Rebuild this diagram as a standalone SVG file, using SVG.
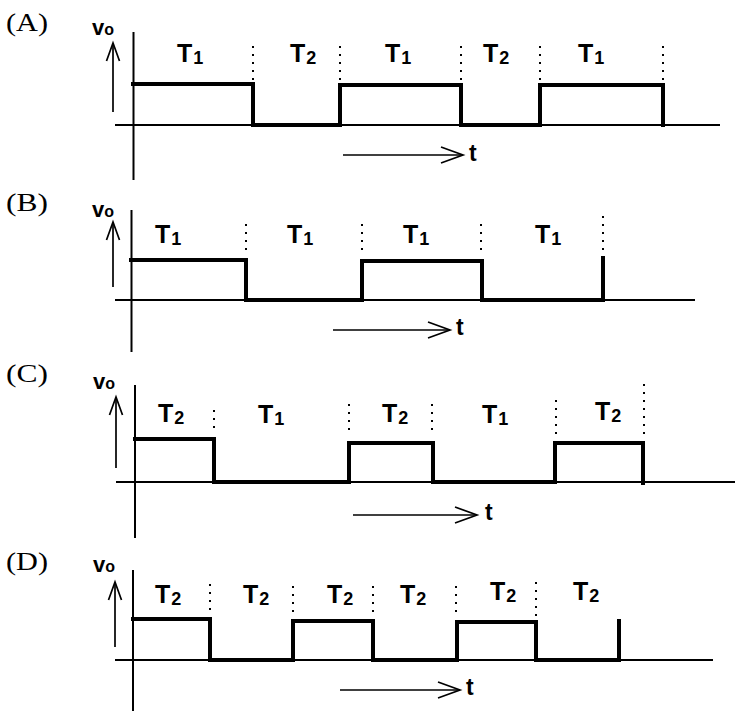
<svg xmlns="http://www.w3.org/2000/svg" width="735" height="711" viewBox="0 0 735 711">
<style>
.bg{fill:#fff}
.ax{stroke:#000;stroke-width:2;fill:none}
.wave{stroke:#000;stroke-width:4;fill:none;stroke-linejoin:miter;stroke-linecap:square}
.arr{stroke:#000;stroke-width:1.7;fill:none}
.dot{stroke:#000;stroke-width:2;stroke-dasharray:2 6;fill:none}
.opt{font-family:"Liberation Serif","Times New Roman",serif;font-size:26px;fill:#000}
.lbl{font-family:"Liberation Sans",Arial,sans-serif;font-weight:bold;font-size:25px;fill:#000}
.sub{font-size:18px}
.vo{font-family:"Liberation Sans",Arial,sans-serif;font-weight:bold;font-size:22px;fill:#000}
.vsub{font-size:16px}
.tt{font-family:"Liberation Sans",Arial,sans-serif;font-weight:bold;font-size:23px;fill:#000}
</style>
<rect class="bg" x="0" y="0" width="735" height="711"/>

<g id="panelA">
<text class="opt" x="6" y="31" textLength="42" lengthAdjust="spacingAndGlyphs">(A)</text>
<text class="vo" x="92" y="35">v<tspan class="vsub">o</tspan></text>
<line class="arr" x1="113" y1="112" x2="113" y2="44"/>
<polyline class="arr" points="106.5,61 113,43 119.5,61"/>
<line class="ax" x1="133.5" y1="32" x2="133.5" y2="180"/>
<line class="ax" x1="115" y1="125" x2="720" y2="125"/>
<path class="wave" d="M133,84 H253 V125 H340 V85 H461 V125 H540 V85 H663 V125"/>
<line class="dot" x1="253" y1="46" x2="253" y2="80"/>
<line class="dot" x1="340" y1="46" x2="340" y2="80"/>
<line class="dot" x1="461" y1="46" x2="461" y2="80"/>
<line class="dot" x1="540" y1="46" x2="540" y2="80"/>
<line class="dot" x1="663" y1="46" x2="663" y2="80"/>
<text class="lbl" x="177" y="62">T<tspan class="sub" dx="1" dy="2">1</tspan></text>
<text class="lbl" x="290" y="62">T<tspan class="sub" dx="1" dy="2">2</tspan></text>
<text class="lbl" x="385" y="62">T<tspan class="sub" dx="1" dy="2">1</tspan></text>
<text class="lbl" x="483" y="62">T<tspan class="sub" dx="1" dy="2">2</tspan></text>
<text class="lbl" x="578" y="62">T<tspan class="sub" dx="1" dy="2">1</tspan></text>
<line class="arr" x1="343" y1="155" x2="462" y2="155"/>
<polyline class="arr" points="441,147 463,155 441,163"/>
<text class="tt" x="469" y="161">t</text>
</g>

<g id="panelB">
<text class="opt" x="6" y="211" textLength="42" lengthAdjust="spacingAndGlyphs">(B)</text>
<text class="vo" x="92" y="217">v<tspan class="vsub">o</tspan></text>
<line class="arr" x1="113" y1="287" x2="113" y2="223"/>
<polyline class="arr" points="106.5,240 113,222 119.5,240"/>
<line class="ax" x1="131.5" y1="210" x2="131.5" y2="352"/>
<line class="ax" x1="115" y1="300" x2="695" y2="300"/>
<path class="wave" d="M131,260 H246 V300 H362 V261 H482 V300 H603 V258"/>
<line class="dot" x1="246" y1="224" x2="246" y2="254"/>
<line class="dot" x1="362" y1="224" x2="362" y2="254"/>
<line class="dot" x1="481" y1="224" x2="481" y2="254"/>
<line class="dot" x1="603" y1="216" x2="603" y2="252"/>
<text class="lbl" x="155" y="243">T<tspan class="sub" dx="1" dy="2">1</tspan></text>
<text class="lbl" x="287" y="243">T<tspan class="sub" dx="1" dy="2">1</tspan></text>
<text class="lbl" x="403" y="243">T<tspan class="sub" dx="1" dy="2">1</tspan></text>
<text class="lbl" x="535" y="243">T<tspan class="sub" dx="1" dy="2">1</tspan></text>
<line class="arr" x1="333" y1="330" x2="450" y2="330"/>
<polyline class="arr" points="428,322 450,330 428,338"/>
<text class="tt" x="456" y="335">t</text>
</g>

<g id="panelC">
<text class="opt" x="6" y="382" textLength="42" lengthAdjust="spacingAndGlyphs">(C)</text>
<text class="vo" x="93" y="389">v<tspan class="vsub">o</tspan></text>
<line class="arr" x1="116" y1="468" x2="116" y2="398"/>
<polyline class="arr" points="109.5,415 116,397 122.5,415"/>
<line class="ax" x1="135" y1="385" x2="135" y2="538"/>
<line class="ax" x1="116" y1="482" x2="735" y2="482"/>
<path class="wave" d="M135,439 H214 V482 H349 V443 H433 V482 H555 V443 H643 V483"/>
<line class="dot" x1="214" y1="410" x2="214" y2="432"/>
<line class="dot" x1="349" y1="404" x2="349" y2="434"/>
<line class="dot" x1="432" y1="404" x2="432" y2="434"/>
<line class="dot" x1="556" y1="400" x2="556" y2="440"/>
<line class="dot" x1="644" y1="384" x2="644" y2="434"/>
<text class="lbl" x="158" y="422">T<tspan class="sub" dx="1" dy="2">2</tspan></text>
<text class="lbl" x="258" y="423">T<tspan class="sub" dx="1" dy="2">1</tspan></text>
<text class="lbl" x="382" y="422">T<tspan class="sub" dx="1" dy="2">2</tspan></text>
<text class="lbl" x="482" y="423">T<tspan class="sub" dx="1" dy="2">1</tspan></text>
<text class="lbl" x="595" y="420">T<tspan class="sub" dx="1" dy="2">2</tspan></text>
<line class="arr" x1="353" y1="515" x2="477" y2="515"/>
<polyline class="arr" points="455,507 477,515 455,523"/>
<text class="tt" x="485" y="520">t</text>
</g>

<g id="panelD">
<text class="opt" x="6" y="570" textLength="42" lengthAdjust="spacingAndGlyphs">(D)</text>
<text class="vo" x="93" y="572">v<tspan class="vsub">o</tspan></text>
<line class="arr" x1="115" y1="647" x2="115" y2="583"/>
<polyline class="arr" points="108.5,600 115,582 121.5,600"/>
<line class="ax" x1="133" y1="570" x2="133" y2="711"/>
<line class="ax" x1="115" y1="660" x2="713" y2="660"/>
<path class="wave" d="M133,619 H210 V660 H293 V621 H373 V660 H457 V622 H536 V660 H619 V621"/>
<line class="dot" x1="210" y1="584" x2="210" y2="612"/>
<line class="dot" x1="293" y1="586" x2="293" y2="614"/>
<line class="dot" x1="373" y1="586" x2="373" y2="614"/>
<line class="dot" x1="456" y1="586" x2="456" y2="618"/>
<line class="dot" x1="536" y1="582" x2="536" y2="618"/>
<text class="lbl" x="155" y="603">T<tspan class="sub" dx="1" dy="2">2</tspan></text>
<text class="lbl" x="243" y="603">T<tspan class="sub" dx="1" dy="2">2</tspan></text>
<text class="lbl" x="327" y="603">T<tspan class="sub" dx="1" dy="2">2</tspan></text>
<text class="lbl" x="400" y="603">T<tspan class="sub" dx="1" dy="2">2</tspan></text>
<text class="lbl" x="490" y="600">T<tspan class="sub" dx="1" dy="2">2</tspan></text>
<text class="lbl" x="573" y="600">T<tspan class="sub" dx="1" dy="2">2</tspan></text>
<line class="arr" x1="340" y1="690" x2="460" y2="690"/>
<polyline class="arr" points="438,682 460,690 438,698"/>
<text class="tt" x="466" y="695">t</text>
</g>
</svg>
